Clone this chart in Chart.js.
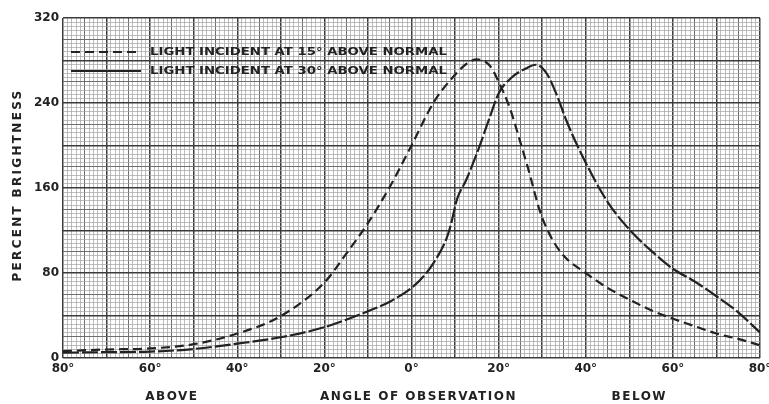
<!DOCTYPE html>
<html>
<head>
<meta charset="utf-8">
<script src="https://cdn.jsdelivr.net/npm/chart.js@4.4.1/dist/chart.umd.min.js"></script>
<style>
  html, body { margin: 0; padding: 0; background: #fff; }
  #wrap { width: 769px; height: 404px; }
</style>
</head>
<body>
<div id="wrap"><canvas id="chart"></canvas></div>
<script>
// angle of observation (negative = above, positive = below) and percent brightness
const angles15 = [-80, -70, -60, -50, -40, -30, -20, -15, -10, -5, 0, 5, 9, 13, 15, 18, 20, 22.5, 25, 27, 29.5, 32, 35, 40, 45, 50, 55, 60, 65, 70, 75, 80];
const bright15 = [6.5, 8, 9, 13, 23, 39.5, 71, 98, 127, 161, 200, 240, 262, 278, 281, 275, 260, 236, 203, 175, 138, 114, 96, 80, 66, 55, 45, 37, 30, 23, 18, 12];

const angles30 = [-80, -70, -60, -50, -40, -30, -20, -10, -5, 0, 3, 5, 8, 9, 10.5, 12.5, 15.5, 18, 20, 23, 26.5, 28.5, 31, 33.5, 35.5, 39, 45, 50, 55, 60, 65, 69, 75, 80];
const bright30 = [5, 5.5, 6, 8.5, 13.5, 19.5, 29, 44, 53, 66, 78, 89, 112, 125, 150, 167, 198, 227, 249, 264, 273, 276, 268, 246, 224, 192, 147, 121, 101, 84, 72, 61, 43, 24];

const seriesLabels = ['LIGHT INCIDENT AT 15\u00B0 ABOVE NORMAL', 'LIGHT INCIDENT AT 30\u00B0 ABOVE NORMAL'];
const xTickValues = [-80, -60, -40, -20, 0, 20, 40, 60, 80];
const yTickValues = [0, 80, 160, 240, 320];
const xTitle = 'ANGLE OF OBSERVATION';
const yTitle = 'PERCENT BRIGHTNESS';
const sideLabels = [{ at: -55, text: 'ABOVE' }, { at: 52.3, text: 'BELOW' }];

const ink = '#222';
const letterFont = 'bold 12px "DejaVu Sans"';

function toPoints(xs, ys) {
  return xs.map((x, i) => ({ x: x, y: ys[i] }));
}

// graph paper: heavy, medium and fine rulings
function paperColor(v, heavy, medium) {
  if (v % heavy === 0) return '#3c3c3c';
  if (v % medium === 0) return '#6e6e6e';
  return '#a2a2a2';
}
function paperWidth(v, heavy, medium) {
  if (v % heavy === 0) return 1.5;
  if (v % medium === 0) return 1;
  return 0.7;
}

function spacedText(ctx, text, x, y, spacing) {
  ctx.letterSpacing = spacing + 'px';
  ctx.fillText(text, x, y);
  ctx.letterSpacing = '0px';
}

const paperAnnotations = {
  id: 'paperAnnotations',
  afterDatasetsDraw(chart) {
    const ctx = chart.ctx;
    const area = chart.chartArea;
    const xs = chart.scales.x;
    ctx.save();
    ctx.fillStyle = ink;
    ctx.textBaseline = 'middle';

    // legend inside the plot
    ctx.font = 'bold 11px "DejaVu Sans"';
    const rows = [
      { y: 52, dash: [9, 5], text: seriesLabels[0] },
      { y: 71, dash: [], text: seriesLabels[1] }
    ];
    rows.forEach(row => {
      ctx.strokeStyle = ink;
      ctx.lineWidth = 2;
      ctx.setLineDash(row.dash);
      ctx.beginPath();
      ctx.moveTo(area.left + 8, row.y);
      ctx.lineTo(area.left + 78, row.y);
      ctx.stroke();
      ctx.setLineDash([]);
      const w = ctx.measureText(row.text).width;
      ctx.save();
      ctx.translate(area.left + 87, row.y);
      ctx.scale(297 / w, 1);
      ctx.textAlign = 'left';
      ctx.fillText(row.text, 0, 0);
      ctx.restore();
    });

    // axis titles
    ctx.font = letterFont;
    ctx.textAlign = 'center';
    spacedText(ctx, xTitle, (area.left + area.right) / 2 + 7, 397, 1.5);
    sideLabels.forEach(s => {
      spacedText(ctx, s.text, xs.getPixelForValue(s.at), 397, 1.5);
    });

    ctx.save();
    ctx.translate(18, 185);
    ctx.rotate(-Math.PI / 2);
    spacedText(ctx, yTitle, 0, 0, 2.3);
    ctx.restore();

    ctx.restore();
  }
};

new Chart(document.getElementById('chart'), {
  type: 'line',
  data: {
    datasets: [
      {
        label: seriesLabels[0],
        data: toPoints(angles15, bright15),
        borderColor: ink,
        borderWidth: 2.2,
        borderDash: [9, 5],
        pointRadius: 0,
        fill: false,
        cubicInterpolationMode: 'monotone'
      },
      {
        label: seriesLabels[1],
        data: toPoints(angles30, bright30),
        borderColor: ink,
        borderWidth: 2.2,
        borderDash: [16, 3],
        pointRadius: 0,
        fill: false,
        cubicInterpolationMode: 'monotone'
      }
    ]
  },
  options: {
    responsive: true,
    maintainAspectRatio: false,
    animation: false,
    layout: { padding: { top: 18, right: 9, left: 0, bottom: 0 } },
    plugins: {
      legend: { display: false },
      tooltip: { enabled: false }
    },
    scales: {
      x: {
        type: 'linear',
        min: -80,
        max: 80,
        afterFit(scale) {
          scale.height = 46;
          scale.paddingLeft = 0;
          scale.paddingRight = 0;
        },
        border: { display: false },
        grid: {
          drawTicks: false,
          color: c => paperColor(c.tick.value, 10, 5),
          lineWidth: c => paperWidth(c.tick.value, 10, 5)
        },
        ticks: {
          stepSize: 1,
          autoSkip: false,
          maxRotation: 0,
          padding: 4,
          color: ink,
          font: { family: 'DejaVu Sans', size: 12, weight: 'bold' },
          callback: v => xTickValues.includes(v) ? Math.abs(v) + '\u00B0' : ''
        }
      },
      y: {
        min: 0,
        max: 320,
        afterFit(scale) {
          scale.width = 63;
          scale.paddingTop = 0;
          scale.paddingBottom = 0;
        },
        border: { display: false },
        grid: {
          drawTicks: false,
          color: c => paperColor(c.tick.value, 40, 20),
          lineWidth: c => paperWidth(c.tick.value, 40, 20)
        },
        ticks: {
          stepSize: 4,
          autoSkip: false,
          padding: 4,
          color: ink,
          font: { family: 'DejaVu Sans', size: 12, weight: 'bold' },
          callback: v => yTickValues.includes(v) ? String(v) : ''
        }
      }
    }
  },
  plugins: [paperAnnotations]
});
</script>
</body>
</html>
